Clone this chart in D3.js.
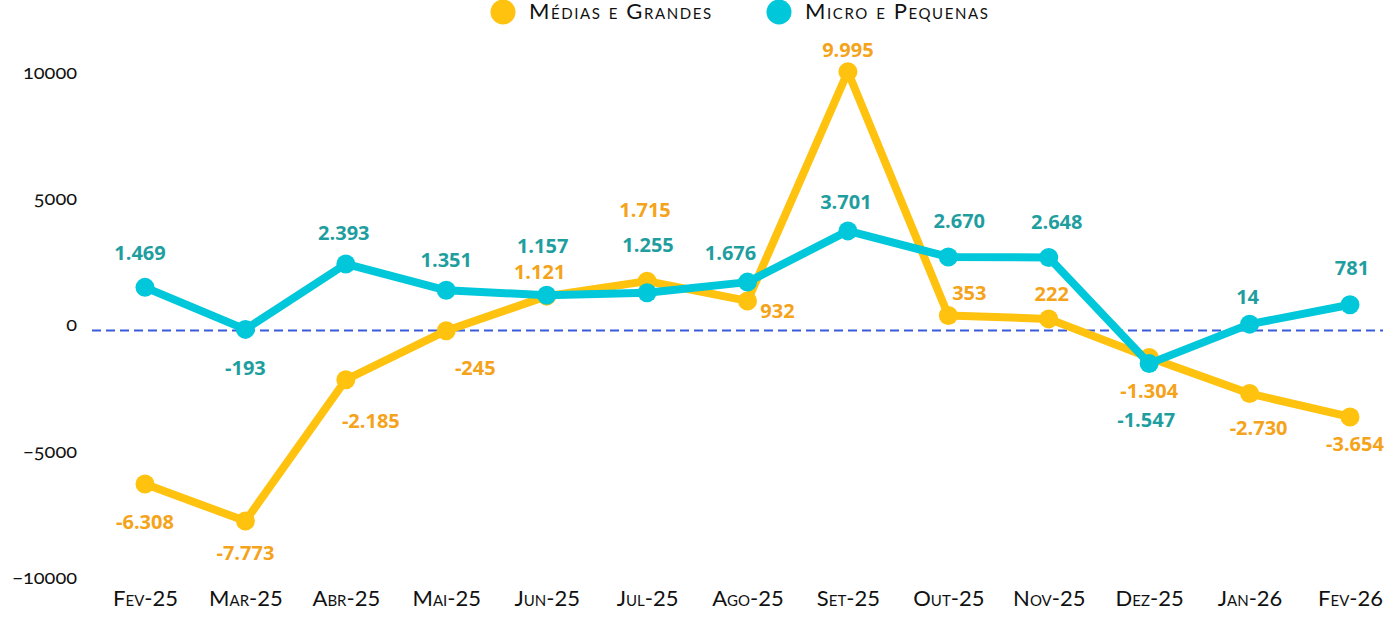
<!DOCTYPE html>
<html>
<head>
<meta charset="utf-8">
<script src="https://cdn.jsdelivr.net/npm/d3@7"></script>
<style>
  html, body { margin: 0; padding: 0; background: #fff; }
  #chart { width: 1387px; height: 617px; }
  .sc { font-family: Lato, "Open Sans", sans-serif; font-variant: small-caps; fill: #111; }
  .tick-label { font-family: Lato, "Open Sans", sans-serif; font-variant-numeric: oldstyle-nums; fill: #111; }
  .val { font-family: "Open Sans", "Noto Sans", sans-serif; font-weight: 700; }
</style>
</head>
<body>
<div id="chart"></div>
<script>
// Data
const months = ["Fev-25", "Mar-25", "Abr-25", "Mai-25", "Jun-25", "Jul-25", "Ago-25",
                "Set-25", "Out-25", "Nov-25", "Dez-25", "Jan-26", "Fev-26"];
const mediasGrandes = [-6308, -7773, -2185, -245, 1121, 1715, 932, 9995, 353, 222, -1304, -2730, -3654];
const microPequenas = [1469, -193, 2393, 1351, 1157, 1255, 1676, 3701, 2670, 2648, -1547, 14, 781];
const yTicks = [-10000, -5000, 0, 5000, 10000];

// Label nudges (pixels) so value labels don't collide
const labelOffsetMG = [[0, 37], [0, 31], [25, 41], [29, 37], [-7, -25], [-2, -72], [30, 10],
                       [0, -22], [21, -23], [3, -25], [0, 33], [9, 34], [5, 27]];
const labelOffsetMP = [[-5, -35], [0, 38], [-2, -31], [0, -31], [-4, -50], [1, -48], [-17, -30],
                       [-2, -29], [11, -36], [8, -36], [-3, 56], [-2, -28], [2, -37]];

const W = 1387, H = 617;

const svg = d3.select("#chart")
    .append("svg")
    .attr("width", W)
    .attr("height", H);

// Scales
const x = d3.scalePoint()
    .domain(months)
    .range([145, 1350]);

const y = d3.scaleLinear()
    .domain([-10000, 10000])
    .range([577.4, 71.6]);

// Brazilian number format
const br = d3.formatLocale({ decimal: ",", thousands: ".", grouping: [3], currency: ["R$", ""], minus: "-" });
const fmt = br.format(",d");

// Y axis labels (no axis line)
const yAxis = svg.append("g")
    .attr("transform", "translate(77,0)")
    .call(d3.axisLeft(y).tickValues(yTicks).tickSize(0).tickPadding(0).tickFormat(d3.format("d")));
yAxis.select(".domain").remove();
yAxis.selectAll("text")
    .attr("class", "tick-label")
    .style("font-size", "20px")
    .style("font-family", "Lato, 'Open Sans', sans-serif")
    .attr("fill", "#111");

// X axis labels
const xAxis = svg.append("g")
    .attr("transform", "translate(0,590)")
    .call(d3.axisBottom(x).tickSize(0).tickPadding(0));
xAxis.select(".domain").remove();
xAxis.selectAll("text")
    .attr("class", "sc")
    .attr("dy", "0.71em")
    .style("font-size", "22px")
    .style("font-family", "Lato, 'Open Sans', sans-serif")
    .attr("fill", "#111");

// Dashed zero line
svg.append("line")
    .attr("x1", 92)
    .attr("x2", 1383)
    .attr("y1", y(0) + 6)
    .attr("y2", y(0) + 6)
    .attr("stroke", "#3a5bd9")
    .attr("stroke-width", 2)
    .attr("stroke-dasharray", "9,5");

const series = [
    { name: "Médias e Grandes", values: mediasGrandes, line: "#ffc20e", text: "#f5a31a", offs: labelOffsetMG },
    { name: "Micro e Pequenas", values: microPequenas, line: "#00c8da", text: "#1f9ea0", offs: labelOffsetMP }
];

const line = d3.line()
    .x((d, i) => x(months[i]))
    .y(d => y(d));

series.forEach(s => {
    const g = svg.append("g");
    g.append("path")
        .attr("d", line(s.values))
        .attr("fill", "none")
        .attr("stroke", s.line)
        .attr("stroke-width", 8)
        .attr("stroke-linejoin", "round");
    g.selectAll("circle")
        .data(s.values)
        .enter()
        .append("circle")
        .attr("cx", (d, i) => x(months[i]))
        .attr("cy", d => y(d))
        .attr("r", 9.5)
        .attr("fill", s.line);
});

// Value labels on top
series.forEach(s => {
    svg.append("g").selectAll("text")
        .data(s.values)
        .enter()
        .append("text")
        .attr("class", "val")
        .attr("x", (d, i) => x(months[i]) + s.offs[i][0])
        .attr("y", (d, i) => y(d) + s.offs[i][1])
        .attr("text-anchor", "middle")
        .attr("dominant-baseline", "central")
        .style("font-size", "20px")
        .attr("fill", s.text)
        .text(d => fmt(d));
});

// Legend
const legendItems = [
    { name: series[0].name, color: series[0].line, cx: 503, tx: 529 },
    { name: series[1].name, color: series[1].line, cx: 779, tx: 805 }
];
const legend = svg.selectAll(".legend")
    .data(legendItems)
    .enter()
    .append("g")
    .attr("class", "legend");
legend.append("circle")
    .attr("cx", d => d.cx)
    .attr("cy", 12)
    .attr("r", 12.5)
    .attr("fill", d => d.color);
legend.append("text")
    .attr("class", "sc")
    .attr("x", d => d.tx)
    .attr("y", 19)
    .style("font-size", "22px")
    .style("letter-spacing", "1.6px")
    .text(d => d.name);
</script>
</body>
</html>
